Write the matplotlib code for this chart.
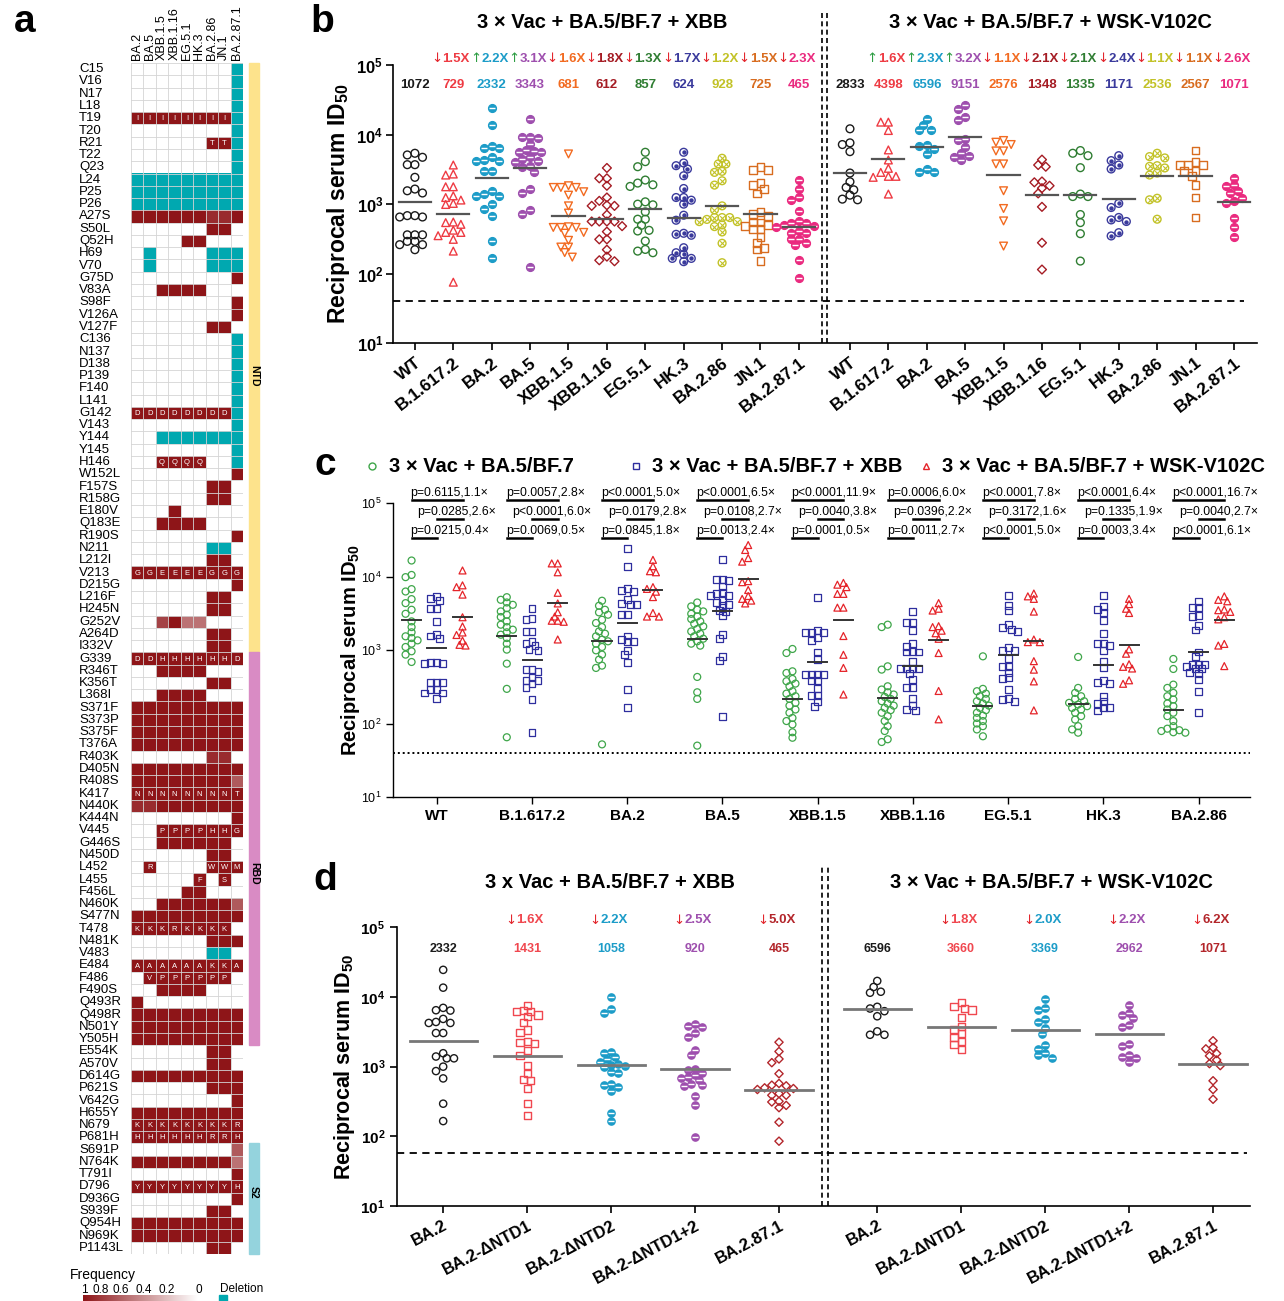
import numpy as np
import matplotlib
matplotlib.use('Agg')
import matplotlib.pyplot as plt
import matplotlib.transforms as mtrans
from matplotlib.colors import LinearSegmentedColormap, to_rgb
from matplotlib.patches import Rectangle
from matplotlib.lines import Line2D
from matplotlib.ticker import NullLocator

plt.rcParams['font.family'] = ['Liberation Sans', 'DejaVu Sans']
plt.rcParams['mathtext.fontset'] = 'custom'
plt.rcParams['mathtext.rm'] = 'Liberation Sans'
plt.rcParams['mathtext.bf'] = 'Liberation Sans:bold'
plt.rcParams['mathtext.it'] = 'Liberation Sans:italic'

# ---------------- panel a: mutation heatmap ----------------
hm_cols = ['BA.2', 'BA.5', 'XBB.1.5', 'XBB.1.16', 'EG.5.1', 'HK.3', 'BA.2.86', 'JN.1', 'BA.2.87.1']
hm_rows = ['C15', 'V16', 'N17', 'L18', 'T19', 'T20', 'R21', 'T22', 'Q23', 'L24', 'P25', 'P26', 'A27S',
           'S50L', 'Q52H', 'H69', 'V70', 'G75D', 'V83A', 'S98F', 'V126A', 'V127F', 'C136', 'N137', 'D138',
           'P139', 'F140', 'L141', 'G142', 'V143', 'Y144', 'Y145', 'H146', 'W152L', 'F157S', 'R158G',
           'E180V', 'Q183E', 'R190S', 'N211', 'L212I', 'V213', 'D215G', 'L216F', 'H245N', 'G252V', 'A264D',
           'I332V', 'G339', 'R346T', 'K356T', 'L368I', 'S371F', 'S373P', 'S375F', 'T376A', 'R403K', 'D405N',
           'R408S', 'K417', 'N440K', 'K444N', 'V445', 'G446S', 'N450D', 'L452', 'L455', 'F456L', 'N460K',
           'S477N', 'T478', 'N481K', 'V483', 'E484', 'F486', 'F490S', 'Q493R', 'Q498R', 'N501Y', 'Y505H',
           'E554K', 'A570V', 'D614G', 'P621S', 'V642G', 'H655Y', 'N679', 'P681H', 'S691P', 'N764K', 'T791I',
           'D796', 'D936G', 'S939F', 'Q954H', 'N969K', 'P1143L']
# '.' absent, 'X' freq 1, digit = freq 0.x, 'D' deletion
hm_cells = ['........D', '........D', '........D', '........D', 'XXXXXXXXD', '........D', '......XXD',
            '........D', '........D', 'DDDDDDDDD', 'DDDDDDDDD', 'DDDDDDDDD', 'XXXXXX99X', '......XX.',
            '....XX...', '.D....DDD', '.D....DDD', '........X', '..XXXX...', '........X', '........X',
            '......XX.', '........D', '........D', '........D', '........D', '........D', '........D',
            'XXXXXXXXD', '........D', '..DDDDDDD', '........D', '..XXXX..D', '........X', '......XX.',
            '......XX.', '...X.....', '..XXXX...', '........X', '......DD.', '......XX.', 'XXXXXXXXX',
            '........X', '......XX.', '......XX.', '..8X66...', '......XX.', '......XX.', 'XXXXXXXXX',
            '..XXXX...', '......XX.', '..XXXX...', 'XXXXXXXXX', 'XXXXXXXXX', 'XXXXXXXXX', 'XXXXXXXXX',
            '......99.', 'XXXXXXXXX', 'XXXXXXXX7', 'XXXXXXXXX', '99XXXXXXX', '........X', '..XXXXXXX',
            '..XXXXXX.', '......XX.', '.X....XXX', '.....X.X.', '....XX...', '..XXXXXX7', 'XXXXXXXXX',
            'XXXXXXXX.', '......XXX', '......DD.', 'XXXXXXXXX', '.XXXXXXX.', '..XXXX...', 'X........',
            'XXXXXXXXX', 'XXXXXXXXX', 'XXXXXXXXX', '......XX.', '......XX.', 'XXXXXXXXX', '......XXX',
            '........X', 'XXXXXXXXX', 'XXXXXXXXX', 'XXXXXXXXX', '........7', 'XXXXXXXX6', '........X',
            'XXXXXXXXX', '........X', '......XX.', 'XXXXXXXXX', 'XXXXXXXXX', '......XX.']
hm_letters = {'T19': 'IIIIIIII ', 'R21': '      TT ', 'G142': 'DDDDDDDD ', 'H146': '  QQQQ   ',
              'V213': 'GGEEEEGGG', 'G339': 'DDHHHHHHD', 'K417': 'NNNNNNNNT', 'V445': '  PPPPHHG',
              'L452': ' R    WWM', 'L455': '     F S ', 'T478': 'KKKRKKKK ', 'E484': 'AAAAAAKKA',
              'F486': ' VPPPPPP ', 'N679': 'KKKKKKKKR', 'P681H': 'HHHHHHRRH', 'D796': 'YYYYYYYYH'}
regions = [('NTD', 'C15', 'I332V'), ('RBD', 'G339', 'Y505H'), ('S2', 'S691P', 'P1143L')]

# ---------------- panel b: titers ----------------
variants_b = ['WT', 'B.1.617.2', 'BA.2', 'BA.5', 'XBB.1.5', 'XBB.1.16', 'EG.5.1', 'HK.3', 'BA.2.86', 'JN.1', 'BA.2.87.1']
gmt_xbb = [1072, 729, 2332, 3343, 681, 612, 857, 624, 928, 725, 465]
gmt_wsk = [2833, 4398, 6596, 9151, 2576, 1348, 1335, 1171, 2536, 2567, 1071]
fold_xbb = [-1.5, 2.2, 3.1, -1.6, -1.8, -1.3, -1.7, -1.2, -1.5, -2.3]
fold_wsk = [1.6, 2.3, 3.2, -1.1, -2.1, -2.1, -2.4, -1.1, -1.1, -2.6]

xbb_wt = [5370, 4700, 5080, 3680, 3680, 2420, 1640, 1440, 1550, 680, 650, 650, 680, 360, 360, 360, 290, 260, 260, 290, 220]
xbb_b16172 = [3640, 2610, 2700, 1770, 1770, 1310, 1140, 1240, 985, 1020, 550, 540, 510, 390, 390, 420, 310, 350, 210, 75]
xbb_ba2 = [24300, 13500, 6930, 6340, 6410, 4350, 4210, 4210, 4810, 3020, 3020, 1550, 1310, 1310, 1390, 995, 860, 675, 293, 165]
xbb_ba5 = [16850, 8850, 9150, 9150, 7330, 5870, 5550, 5550, 6000, 4700, 4450, 4210, 3980, 3370, 3490, 2920, 1640, 1420, 824, 713, 125]
xbb_xbb15 = [5250, 1830, 1730, 1730, 1730, 1500, 1340, 940, 740, 470, 460, 460, 460, 380, 390, 300, 240, 240, 200, 172]
xbb_xbb116 = [3300, 2340, 2340, 1830, 1110, 1240, 960, 940, 940, 700, 560, 560, 560, 560, 480, 400, 310, 310, 220, 150, 175, 155]
xbb_eg51 = [5550, 4070, 3440, 2000, 2210, 1790, 1890, 973, 995, 1074, 771, 604, 604, 494, 418, 409, 293, 222, 199, 210]
xbb_hk3 = [5550, 3890, 3560, 3190, 2550, 1670, 1240, 1240, 995, 1135, 690, 584, 366, 355, 379, 235, 188, 199, 148, 165, 165]
xbb_ba286 = [4550, 3770, 3770, 2950, 2850, 2160, 1870, 940, 824, 638, 638, 638, 600, 558, 558, 500, 473, 396, 272, 143]
xbb_jn1 = [3370, 3080, 3080, 1890, 2000, 1640, 1420, 771, 713, 675, 483, 540, 540, 494, 432, 432, 335, 277, 235, 222, 151]
xbb_ba2871 = [2230, 1640, 1135, 1282, 788, 494, 528, 540, 571, 483, 409, 468, 387, 387, 277, 310, 317, 257, 159, 85]

wsk_wt = [12080, 7580, 7170, 5670, 2790, 2090, 1730, 1600, 1150, 1340, 1175]
wsk_b16172 = [15070, 15070, 11420, 6000, 4300, 3260, 2850, 2500, 2500, 2420, 1390]
wsk_ba2 = [16850, 13800, 11800, 11420, 6210, 7170, 6780, 5250, 2850, 3190, 2850]
wsk_ba5 = [26800, 22960, 17820, 15920, 8650, 8370, 5430, 6560, 4300, 4960, 4700]
wsk_xbb15 = [7170, 7740, 8190, 5800, 5800, 3770, 3770, 1550, 861, 571, 248]
wsk_xbb116 = [3640, 4350, 3440, 2110, 2050, 1830, 1690, 1420, 910, 277, 114]
wsk_eg51 = [5870, 4960, 5370, 3330, 1280, 1390, 1280, 705, 540, 374, 151]
wsk_hk3 = [4960, 3640, 3190, 4210, 1020, 890, 640, 560, 590, 347, 387]
wsk_ba286 = [4600, 4810, 5370, 3560, 3300, 3480, 2790, 2610, 1210, 1150, 604]
wsk_jn1 = [5870, 3640, 4070, 3640, 3640, 3020, 3020, 2500, 1870, 1240, 638]
wsk_ba2871 = [2340, 1870, 1790, 1535, 1240, 1420, 1100, 1030, 624, 468, 339]

# ---------------- panel c: third cohort ----------------
variants_c = variants_b[:9]
bf7_wt = [16500, 10500, 9800, 6730, 6250, 4920, 4340, 3530, 3110, 2450, 2050, 1740, 1535, 1455, 1352, 1219, 1099, 960, 865, 687]
bf7_b16172 = [5230, 4820, 4430, 4120, 3710, 3350, 3020, 2810, 2450, 2210, 2050, 1890, 1740, 1615, 1455, 1219, 1012, 652, 296, 65]
bf7_ba2 = [4680, 4000, 3530, 3250, 3020, 2580, 2330, 2050, 1790, 1667, 1535, 1382, 1313, 1219, 1099, 989, 865, 740, 613, 570, 52]
bf7_ba5 = [4430, 3920, 3530, 3350, 3110, 2860, 2640, 2450, 2275, 2095, 1930, 1790, 1667, 1535, 1425, 1313, 1219, 1146, 430, 266, 216, 50]
bf7_xbb15 = [1033, 910, 513, 487, 404, 376, 349, 321, 275, 255, 235, 216, 191, 175, 155, 140, 119, 108, 97, 76, 64]
bf7_xbb116 = [2210, 2050, 600, 541, 321, 290, 266, 248, 230, 216, 201, 187, 175, 163, 152, 140, 126, 108, 92, 79, 61, 56]
bf7_eg51 = [820, 296, 275, 255, 235, 216, 201, 187, 175, 163, 152, 140, 128, 119, 108, 100, 92, 83, 67]
bf7_hk3 = [804, 305, 261, 235, 216, 201, 191, 181, 172, 163, 155, 140, 126, 113, 92, 83, 75]
bf7_ba286 = [755, 552, 338, 305, 261, 235, 212, 187, 172, 155, 140, 126, 108, 92, 85, 81, 79, 76, 75]
gmt_bf7 = [2575, 1571, 1319, 1408, 216, 225, 171, 183, 152]
p_row1 = ['p=0.6115,1.1×', 'p=0.0057,2.8×', 'p<0.0001,5.0×', 'p<0.0001,6.5×', 'p<0.0001,11.9×',
          'p=0.0006,6.0×', 'p<0.0001,7.8×', 'p<0.0001,6.4×', 'p<0.0001,16.7×']
p_row2 = ['p=0.0285,2.6×', 'p<0.0001,6.0×', 'p=0.0179,2.8×', 'p=0.0108,2.7×', 'p=0.0040,3.8×',
          'p=0.0396,2.2×', 'p=0.3172,1.6×', 'p=0.1335,1.9×', 'p=0.0040,2.7×']
p_row3 = ['p=0.0215,0.4×', 'p=0.0069,0.5×', 'p=0.0845,1.8×', 'p=0.0013,2.4×', 'p=0.0001,0.5×',
          'p=0.0011,2.7×', 'p<0.0001,5.0×', 'p=0.0003,3.4×', 'p<0.0001,6.1×']

# ---------------- panel d: NTD deletions ----------------
variants_d = ['BA.2', 'BA.2-ΔNTD1', 'BA.2-ΔNTD2', 'BA.2-ΔNTD1+2', 'BA.2.87.1']
gmt_d_xbb = [2332, 1431, 1058, 920, 465]
gmt_d_wsk = [6596, 3660, 3369, 2962, 1071]
fold_d_xbb = [-1.6, -2.2, -2.5, -5.0]
fold_d_wsk = [-1.8, -2.0, -2.2, -6.2]
xbb_d1 = [7430, 6300, 6090, 6090, 5460, 5170, 4240, 3330, 3040, 2260, 2190, 2140, 1680, 1455, 1023, 794, 650, 636, 483, 294, 200]
xbb_d2 = [9780, 6650, 5770, 1625, 1540, 1347, 1275, 1167, 1104, 1045, 1011, 989, 838, 811, 557, 540, 511, 448, 216, 164]
xbb_d12 = [4060, 3840, 3630, 2980, 2610, 1715, 1455, 935, 885, 811, 752, 711, 695, 636, 557, 540, 527, 375, 285, 98]
wsk_d1 = [8300, 7180, 6800, 6440, 5050, 3790, 3400, 2980, 2610, 2260, 2090, 1775]
wsk_d2 = [9150, 6950, 6440, 4780, 4380, 3510, 2910, 2020, 1810, 1540, 1455, 1335]
wsk_d12 = [7590, 5770, 5460, 4890, 3920, 3630, 2090, 1960, 1455, 1377, 1303, 1167]

# ---------------- styles ----------------
colors_b = ['#1a1a1a', '#ee3b43', '#1c9cc8', '#9e4fae', '#f26b21', '#a51c24', '#2f7d32', '#3a3a9c',
            '#c2c227', '#d86c1f', '#ea2a7f']
styles_b = ['o', '^', 'half', 'half', 'v', 'D', 'o', 'dot', 'cross', 's', 'half']
colors_c = ['#3fa64a', '#2e2e9e', '#e5242a']
colors_d = ['#1a1a1a', '#f0474f', '#1c9cc8', '#9e4fae', '#b3262b']
styles_d = ['o', 's', 'half', 'half', 'D']
TEAL = '#00a8b0'
UP, DOWN = '#2e9e44', '#e3262d'

W, H = 1284, 1301
fig = plt.figure(figsize=(W / 100, H / 100), dpi=100)
rend = fig.canvas.get_renderer()


def fx(px):
    return px / W


def fy(py):
    return 1 - py / H


def px_axes(x0, y0, x1, y1):
    return fig.add_axes([x0 / W, 1 - y1 / H, (x1 - x0) / W, (y1 - y0) / H])


def style_axis(ax, lw=1.2):
    for s in ('top', 'right'):
        ax.spines[s].set_visible(False)
    for s in ('left', 'bottom'):
        ax.spines[s].set_linewidth(lw)
    ax.yaxis.set_minor_locator(NullLocator())
    ax.tick_params(width=lw, length=5)


def swarm(ax, x0, vals, d, thr=0.9):
    vals = np.asarray(vals, float)
    pts = ax.transData.transform(np.column_stack([np.full(len(vals), x0), vals]))
    ppu = ax.transData.transform((x0 + 1, vals[0]))[0] - pts[0, 0]
    ys = pts[:, 1]
    cands = sorted((k * d / 2 for k in range(-16, 17)), key=lambda c: (abs(c), c))
    placed, off = [], np.zeros(len(vals))
    for i in np.argsort(-ys):
        for c in cands:
            if all((c - px) ** 2 + (ys[i] - py) ** 2 >= (thr * d) ** 2 for px, py in placed):
                break
        placed.append((c, ys[i]))
        off[i] = c
    return x0 + off / ppu


def draw_pts(ax, xs, ys, style, color, ms, lw=1.0):
    s = ms ** 2
    if style == 'half':
        ax.scatter(xs, ys, s=s, marker='o', facecolors=color, edgecolors=color, linewidths=lw, zorder=3)
        ax.scatter(xs, ys, s=s * 0.5, marker='_', color='white', linewidths=1.0, zorder=4)
        return
    m = 'o' if style in ('dot', 'cross') else style
    sz = s * 0.65 if style == 'D' else s
    ax.scatter(xs, ys, s=sz, marker=m, facecolors='none', edgecolors=color, linewidths=lw, zorder=3)
    if style == 'dot':
        ax.scatter(xs, ys, s=s * 0.15, marker='o', color=color, zorder=4)
    if style == 'cross':
        ax.scatter(xs, ys, s=s * 0.35, marker='x', color=color, linewidths=lw * 0.8, zorder=4)


def fold_text(ax, trans, x, ypx, v, color, size, arrow_col=None):
    s = f'{abs(v):.1f}X'
    t = ax.text(x, fy(ypx), s, transform=trans + mtrans.Affine2D().translate(3, 0), ha='center',
                va='center', color=color, fontsize=size, fontweight='bold')
    w = t.get_window_extent(renderer=rend).width
    acol = arrow_col or (UP if v > 0 else DOWN)
    ax.text(x, fy(ypx), '↑' if v > 0 else '↓', transform=trans + mtrans.Affine2D().translate(3 - w / 2, 0),
            ha='right', va='center', color=acol, fontsize=size, family=['DejaVu Sans'])


def log_ticks(ax, size, bold=True):
    ax.set_yticks([10, 100, 1000, 1e4, 1e5])
    fmt = r'$\mathbf{10^{%d}}$' if bold else r'$\mathregular{10^{%d}}$'
    ax.set_yticklabels([fmt % k for k in range(1, 6)], fontsize=size)


def separator(ax, xs, top):
    for x in xs:
        ax.plot([x, x], [0, top], transform=ax.get_xaxis_transform(), color='k', lw=1.2,
                ls=(0, (3, 2)), clip_on=False)


YLAB = r'Reciprocal serum ID$_{\mathbf{50}}$'

# ================= panel a =================
cmap = LinearSegmentedColormap.from_list('freq', ['#ffffff', '#8e1518'])
lev = {'.': 0.0, 'X': 1.0, '9': 0.9, '8': 0.8, '7': 0.7, '6': 0.6}
nr, nc = len(hm_rows), len(hm_cols)
rgb = np.ones((nr, nc, 3))
for i, s in enumerate(hm_cells):
    for j, ch in enumerate(s):
        rgb[i, j] = to_rgb(TEAL) if ch == 'D' else cmap(lev[ch])[:3]
axa = px_axes(131, 63, 243, 1254)
axa.imshow(rgb, aspect='auto', interpolation='nearest', extent=(-0.5, nc - 0.5, nr - 0.5, -0.5))
for j in range(nc + 1):
    axa.axvline(j - 0.5, color='#d4d4d4', lw=0.6)
for i in range(nr + 1):
    axa.axhline(i - 0.5, color='#d4d4d4', lw=0.6)
axa.set_xlim(-0.5, nc - 0.5)
axa.set_ylim(nr - 0.5, -0.5)
axa.set_axis_off()
cw = 112 / nc
for i, name in enumerate(hm_rows):
    axa.text(-0.5 - 52 / cw, i, name, ha='left', va='center', fontsize=9.5)
for j, name in enumerate(hm_cols):
    axa.text(j, -0.75, name, rotation=90, ha='center', va='bottom', fontsize=9)
for name, s in hm_letters.items():
    i = hm_rows.index(name)
    for j, ch in enumerate(s):
        if ch != ' ':
            axa.text(j, i + 0.05, ch, color='white', fontsize=5.5, ha='center', va='center')
reg_cols = ['#fde38c', '#d98bc4', '#94d3dd']
reg_label_rows = [25, 65.5, 91.5]
bx = nc - 0.5 + 6 / cw
for (lab, r0, r1), col, lr in zip(regions, reg_cols, reg_label_rows):
    i0, i1 = hm_rows.index(r0), hm_rows.index(r1)
    axa.add_patch(Rectangle((bx, i0 - 0.5), 10 / cw, i1 - i0 + 1, color=col, clip_on=False))
    axa.text(bx + 5 / cw, lr, lab, rotation=270, ha='center', va='center',
             fontsize=7.5, fontweight='bold')
fig.text(fx(70), fy(1275), 'Frequency', fontsize=10, va='center', ha='left')
for v, p in zip([1, 0.8, 0.6, 0.4, 0.2, 0], [84, 101, 121, 144, 167, 199]):
    fig.text(fx(p), fy(1290), f'{v:g}', ha='center', va='center', fontsize=8.5)
cax = px_axes(83, 1295, 197, 1301)
cax.imshow(np.linspace(1, 0, 256)[None, :], cmap=cmap, aspect='auto', vmin=0, vmax=1)
cax.set_axis_off()
fig.text(fx(220), fy(1289), 'Deletion', fontsize=8.5, va='center')
fig.add_artist(Rectangle((fx(219), fy(1301)), 8 / W, 6 / H, transform=fig.transFigure, color=TEAL))
fig.text(fx(25), fy(22), 'a', fontsize=28, fontweight='bold', ha='center', va='center')

# ================= panel b =================
axb = px_axes(393, 65, 1257, 343)
axb.set_yscale('log')
axb.set_ylim(10, 1e5)
axb.set_xlim(-0.57, 21.93)
style_axis(axb)
xl = np.arange(11.0)
xr = 11.33 + np.arange(11.0)
data_xbb = [xbb_wt, xbb_b16172, xbb_ba2, xbb_ba5, xbb_xbb15, xbb_xbb116, xbb_eg51, xbb_hk3, xbb_ba286, xbb_jn1, xbb_ba2871]
data_wsk = [wsk_wt, wsk_b16172, wsk_ba2, wsk_ba5, wsk_xbb15, wsk_xbb116, wsk_eg51, wsk_hk3, wsk_ba286, wsk_jn1, wsk_ba2871]
tb = mtrans.blended_transform_factory(axb.transData, fig.transFigure)
for xs, data, gmts, folds in ((xl, data_xbb, gmt_xbb, fold_xbb), (xr, data_wsk, gmt_wsk, fold_wsk)):
    for i in range(11):
        px = swarm(axb, xs[i], data[i], 7.6, thr=0.85)
        draw_pts(axb, px, data[i], styles_b[i], colors_b[i], 5.6)
        axb.plot([xs[i] - 0.42, xs[i] + 0.42], [gmts[i]] * 2, color='#555555', lw=1.6, zorder=5)
        axb.text(xs[i], fy(85), str(gmts[i]), transform=tb, ha='center', va='center',
                 color=colors_b[i], fontsize=9.5, fontweight='bold')
        if i > 0:
            fold_text(axb, tb, xs[i], 59, folds[i - 1], colors_b[i], 9.5)
axb.plot([-0.57, 21.6], [40, 40], color='k', lw=1.3, ls=(0, (4, 3)))
separator(axb, [10.6, 10.73], 1.198)
axb.set_xticks(np.concatenate([xl, xr]))
axb.set_xticklabels(variants_b * 2, rotation=38, ha='right', rotation_mode='anchor',
                    fontsize=12.5, fontweight='bold')
log_ticks(axb, 12)
axb.tick_params(axis='y', pad=2)
axb.set_ylabel(YLAB, fontsize=16.5, fontweight='bold')
axb.yaxis.set_label_coords(-0.047, 0.5)
fig.text(fx(602), fy(23), '3 × Vac + BA.5/BF.7 + XBB', ha='center', va='center', fontsize=14.5, fontweight='bold')
fig.text(fx(1050), fy(23), '3 × Vac + BA.5/BF.7 + WSK-V102C', ha='center', va='center', fontsize=14.5, fontweight='bold')
fig.text(fx(322), fy(22), 'b', fontsize=28, fontweight='bold', ha='center', va='center')

# ================= panel c =================
axc = px_axes(393, 503, 1250, 797)
axc.set_yscale('log')
axc.set_ylim(10, 1e5)
axc.set_xlim(-0.46, 8.54)
style_axis(axc, 1.0)
data_bf7 = [bf7_wt, bf7_b16172, bf7_ba2, bf7_ba5, bf7_xbb15, bf7_xbb116, bf7_eg51, bf7_hk3, bf7_ba286]
offs = [-0.265, 0.0, 0.27]
marks_c = ['o', 's', '^']
tc = mtrans.blended_transform_factory(axc.transData, fig.transFigure)
for i in range(9):
    cohorts = [(data_bf7[i], gmt_bf7[i]), (data_xbb[i], gmt_xbb[i]), (data_wsk[i], gmt_wsk[i])]
    for k, (vals, g) in enumerate(cohorts):
        x0 = i + offs[k]
        px = swarm(axc, x0, vals, 6.0, thr=0.85)
        draw_pts(axc, px, vals, marks_c[k], colors_c[k], 5.0, lw=0.9)
        axc.plot([x0 - 0.1, x0 + 0.1], [g, g], color='#333333', lw=1.4, zorder=5)
    xg, xb, xred = i + offs[0], i + offs[1], i + offs[2]
    axc.text(xg - 0.01, fy(496), p_row1[i], transform=tc, ha='left', va='baseline', fontsize=8.8)
    axc.plot([xg, xred], [fy(500)] * 2, transform=tc, color='k', lw=1.8, clip_on=False)
    axc.text(xg + 0.06, fy(515), p_row2[i], transform=tc, ha='left', va='baseline', fontsize=8.8)
    axc.plot([xb, xred], [fy(519)] * 2, transform=tc, color='k', lw=1.8, clip_on=False)
    axc.text(xg - 0.01, fy(534), p_row3[i], transform=tc, ha='left', va='baseline', fontsize=8.8)
    axc.plot([xg, xb], [fy(538)] * 2, transform=tc, color='k', lw=1.8, clip_on=False)
axc.plot([-0.46, 8.54], [40, 40], color='k', lw=1.4, ls=(0, (1, 1.5)))
axc.set_xticks(np.arange(9))
axc.set_xticklabels(variants_c, fontsize=11, fontweight='bold')
log_ticks(axc, 9, bold=False)
axc.set_ylabel(YLAB, fontsize=14.5, fontweight='bold')
axc.yaxis.set_label_coords(-0.036, 0.5)
leg_items = [(372, 389, '3 × Vac + BA.5/BF.7'), (636, 652, '3 × Vac + BA.5/BF.7 + XBB'),
             (926, 942, '3 × Vac + BA.5/BF.7 + WSK-V102C')]
for k, (mx, tx, lab) in enumerate(leg_items):
    fig.add_artist(Line2D([fx(mx)], [fy(466)], marker=marks_c[k], ms=5, mfc='none', mec=colors_c[k],
                          mew=1.0, ls='none', transform=fig.transFigure))
    fig.text(fx(tx), fy(466), lab, ha='left', va='center', fontsize=14.5, fontweight='bold')
fig.text(fx(325), fy(465), 'c', fontsize=28, fontweight='bold', ha='center', va='center')

# ================= panel d =================
axd = px_axes(397, 927, 1250, 1206)
axd.set_yscale('log')
axd.set_ylim(10, 1e5)
axd.set_xlim(-0.55, 9.61)
style_axis(axd)
dl = np.arange(5.0)
dr = 5.17 + np.arange(5.0)
data_d_xbb = [xbb_ba2, xbb_d1, xbb_d2, xbb_d12, xbb_ba2871]
data_d_wsk = [wsk_ba2, wsk_d1, wsk_d2, wsk_d12, wsk_ba2871]
td = mtrans.blended_transform_factory(axd.transData, fig.transFigure)
for xs, data, gmts, folds in ((dl, data_d_xbb, gmt_d_xbb, fold_d_xbb), (dr, data_d_wsk, gmt_d_wsk, fold_d_wsk)):
    for i in range(5):
        px = swarm(axd, xs[i], data[i], 7.2, thr=0.85)
        draw_pts(axd, px, data[i], styles_d[i], colors_d[i], 5.2)
        axd.plot([xs[i] - 0.4, xs[i] + 0.4], [gmts[i]] * 2, color='#777777', lw=2.0, zorder=5)
        axd.text(xs[i], fy(949), str(gmts[i]), transform=td, ha='center', va='center',
                 color=colors_d[i], fontsize=9, fontweight='bold')
        if i > 0:
            fold_text(axd, td, xs[i], 920, folds[i - 1], colors_d[i], 9.5)
axd.plot([-0.55, 9.58], [57, 57], color='k', lw=1.3, ls=(0, (4, 3)))
separator(axd, [4.51, 4.58], 1.222)
axd.set_xticks(np.concatenate([dl, dr]))
axd.set_xticklabels(variants_d * 2, rotation=28, ha='right', rotation_mode='anchor',
                    fontsize=12, fontweight='bold')
log_ticks(axd, 11)
axd.set_ylabel(YLAB, fontsize=15.5, fontweight='bold')
axd.yaxis.set_label_coords(-0.047, 0.5)
fig.text(fx(610), fy(882), '3 x Vac + BA.5/BF.7 + XBB', ha='center', va='center', fontsize=14.5, fontweight='bold')
fig.text(fx(1051), fy(882), '3 × Vac + BA.5/BF.7 + WSK-V102C', ha='center', va='center', fontsize=14.5, fontweight='bold')
fig.text(fx(325), fy(880), 'd', fontsize=28, fontweight='bold', ha='center', va='center')

fig.savefig('out.png', dpi=100)
